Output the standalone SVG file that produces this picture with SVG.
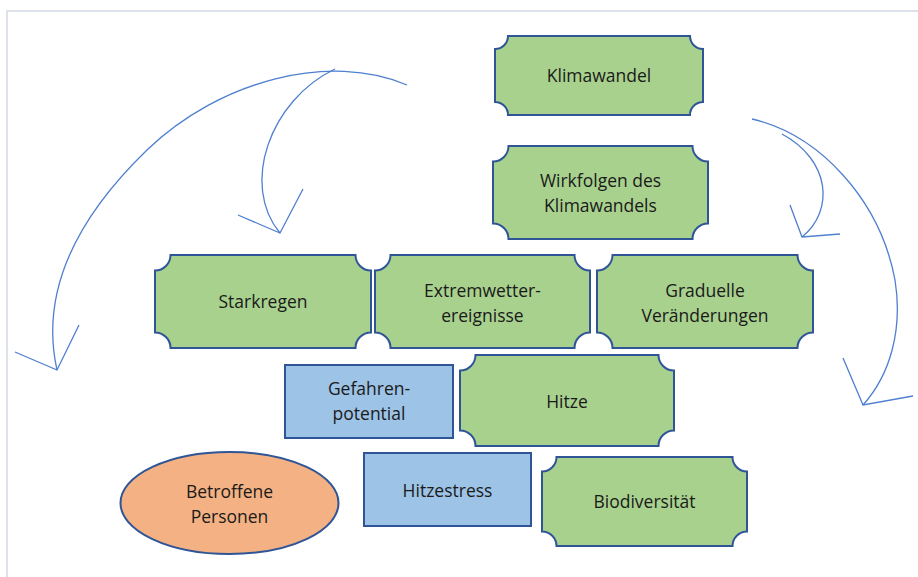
<svg xmlns="http://www.w3.org/2000/svg" width="918" height="577" viewBox="0 0 918 577">
<style>
.plaque{fill:#A9D18E;stroke:#2F5597;stroke-width:2}
.box{fill:#9DC3E6;stroke:#2F5597;stroke-width:2}
.oval{fill:#F4B183;stroke:#2F5597;stroke-width:2}
.t{font-family:"Open Sans","Liberation Sans",sans-serif;font-size:17.5px;fill:#1a1a1a;text-anchor:middle}
.arc{fill:none;stroke:#4F7FD0;stroke-width:1.3}
.frame{fill:none;stroke:#DCE1EA;stroke-width:2}
</style>
<rect width="918" height="577" fill="#ffffff"/>
<path class="frame" d="M7,577 L7,11 L918,11"/>

<g id="connectors">
  <path class="arc" d="M407,85 C330,52 220,80 147,150 C85,210 38,285 57,370"/>
  <path class="arc" d="M15,352 L57,370 L79,325"/>
  <path class="arc" d="M335,69 C270,100 240,185 280,233"/>
  <path class="arc" d="M238,215 L280,233 L303,189"/>
  <path class="arc" d="M752,119 C820,135 880,200 895,280 C903,330 890,375 863,405"/>
  <path class="arc" d="M843,358 L863,405 L913,396"/>
  <path class="arc" d="M782,134 C830,160 835,210 802,237"/>
  <path class="arc" d="M790,205 L802,237 L840,234"/>
</g>

<g id="klimawandel">
  <path class="plaque" d="M508,36 L690,36 A13,13 0 0 0 703,49 L703,102 A13,13 0 0 0 690,115 L508,115 A13,13 0 0 0 495,102 L495,49 A13,13 0 0 0 508,36 Z"/>
  <text class="t" x="599" y="82">Klimawandel</text>
</g>

<g id="wirkfolgen">
  <path class="plaque" d="M508.5,146 L692.5,146 A15.5,15.5 0 0 0 708,161.5 L708,223.5 A15.5,15.5 0 0 0 692.5,239 L508.5,239 A15.5,15.5 0 0 0 493,223.5 L493,161.5 A15.5,15.5 0 0 0 508.5,146 Z"/>
  <text class="t" x="600.5" y="187">Wirkfolgen des</text>
  <text class="t" x="600.5" y="212">Klimawandels</text>
</g>

<g id="starkregen">
  <path class="plaque" d="M170.5,255 L355.5,255 A15.5,15.5 0 0 0 371,270.5 L371,332.5 A15.5,15.5 0 0 0 355.5,348 L170.5,348 A15.5,15.5 0 0 0 155,332.5 L155,270.5 A15.5,15.5 0 0 0 170.5,255 Z"/>
  <text class="t" x="263" y="308">Starkregen</text>
</g>

<g id="extremwetter">
  <path class="plaque" d="M390.5,255 L574.5,255 A15.5,15.5 0 0 0 590,270.5 L590,332.5 A15.5,15.5 0 0 0 574.5,348 L390.5,348 A15.5,15.5 0 0 0 375,332.5 L375,270.5 A15.5,15.5 0 0 0 390.5,255 Z"/>
  <text class="t" x="482.5" y="297">Extremwetter-</text>
  <text class="t" x="482.5" y="322">ereignisse</text>
</g>

<g id="graduelle">
  <path class="plaque" d="M612.5,255 L797.5,255 A15.5,15.5 0 0 0 813,270.5 L813,332.5 A15.5,15.5 0 0 0 797.5,348 L612.5,348 A15.5,15.5 0 0 0 597,332.5 L597,270.5 A15.5,15.5 0 0 0 612.5,255 Z"/>
  <text class="t" x="705" y="297">Graduelle</text>
  <text class="t" x="705" y="322">Veränderungen</text>
</g>

<g id="gefahrenpotential">
  <rect class="box" x="285" y="365" width="168" height="73"/>
  <text class="t" x="369" y="395">Gefahren-</text>
  <text class="t" x="369" y="420">potential</text>
</g>

<g id="hitze">
  <path class="plaque" d="M475.5,355 L658.5,355 A15.5,15.5 0 0 0 674,370.5 L674,430.5 A15.5,15.5 0 0 0 658.5,446 L475.5,446 A15.5,15.5 0 0 0 460,430.5 L460,370.5 A15.5,15.5 0 0 0 475.5,355 Z"/>
  <text class="t" x="567" y="408">Hitze</text>
</g>

<g id="betroffene">
  <ellipse class="oval" cx="229.5" cy="503" rx="109" ry="51"/>
  <text class="t" x="229.5" y="498">Betroffene</text>
  <text class="t" x="229.5" y="523">Personen</text>
</g>

<g id="hitzestress">
  <rect class="box" x="364" y="453" width="167" height="73"/>
  <text class="t" x="447.5" y="497">Hitzestress</text>
</g>

<g id="biodiversitaet">
  <path class="plaque" d="M556.5,457 L732.5,457 A14.5,14.5 0 0 0 747,471.5 L747,531.5 A14.5,14.5 0 0 0 732.5,546 L556.5,546 A14.5,14.5 0 0 0 542,531.5 L542,471.5 A14.5,14.5 0 0 0 556.5,457 Z"/>
  <text class="t" x="644.5" y="508">Biodiversität</text>
</g>
</svg>
